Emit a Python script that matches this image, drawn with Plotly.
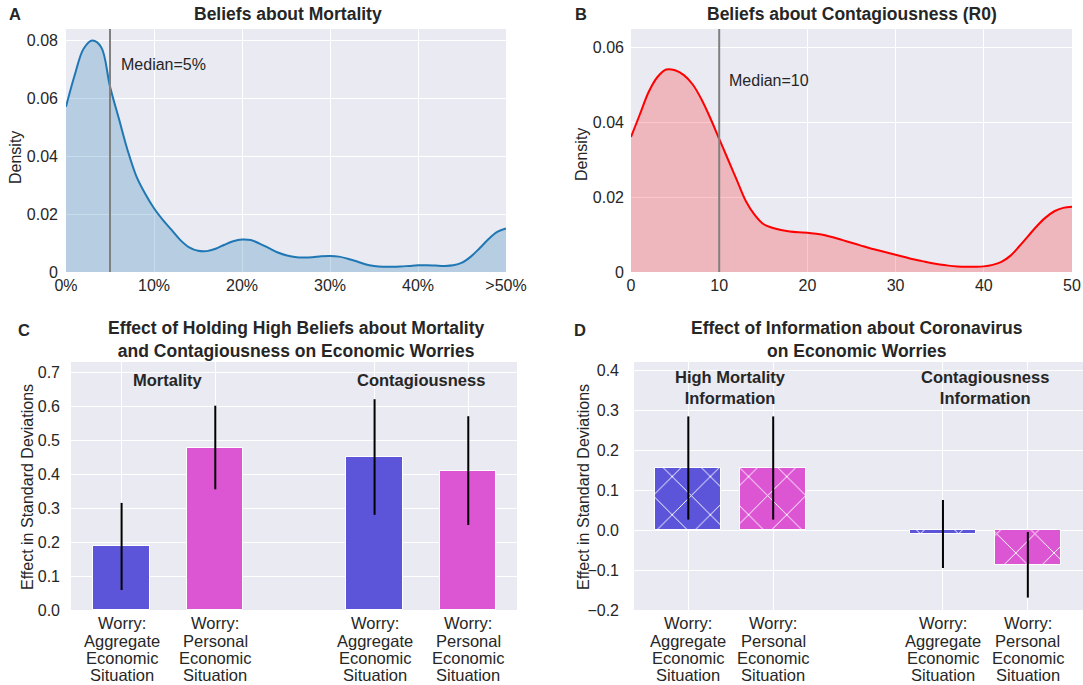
import plotly.graph_objects as go

# ---- Panel A: density of beliefs about mortality (%)
mort_x = list(range(0, 51))
mort_y = [0.057, 0.068, 0.077, 0.0798, 0.0775, 0.064, 0.053, 0.042, 0.033, 0.027,
          0.022, 0.018, 0.0145, 0.011, 0.0085, 0.0073, 0.0072, 0.0080, 0.0094, 0.0106,
          0.0112, 0.0110, 0.0098, 0.0083, 0.0068, 0.0058, 0.0052, 0.0050, 0.0051, 0.0054,
          0.0055, 0.0053, 0.0046, 0.0037, 0.0027, 0.0021, 0.0018, 0.0018, 0.0019, 0.0021,
          0.0023, 0.0023, 0.0022, 0.0021, 0.0023, 0.0032, 0.0053, 0.0082, 0.0113, 0.0138,
          0.0150]
mort_median = 5
mort_ticks = [0, 10, 20, 30, 40, 50]
mort_ticktext = ["0%", "10%", "20%", "30%", "40%", ">50%"]

# ---- Panel B: density of beliefs about R0
r0_x = list(range(0, 51))
r0_y = [0.036, 0.042, 0.048, 0.052, 0.054, 0.0538, 0.0525, 0.050, 0.046, 0.041,
        0.0355, 0.030, 0.0245, 0.019, 0.0153, 0.0128, 0.0118, 0.0112, 0.0108, 0.0106,
        0.0105, 0.0102, 0.0098, 0.0092, 0.0085, 0.0078, 0.0071, 0.0064, 0.0058, 0.0052,
        0.0046, 0.0040, 0.0034, 0.0029, 0.0024, 0.0020, 0.0017, 0.0015, 0.0014, 0.0014,
        0.0015, 0.0019, 0.0027, 0.0043, 0.0068, 0.0095, 0.0122, 0.0145, 0.0162, 0.0171,
        0.0174]
r0_median = 10

# ---- Panel C: effect of high beliefs
worry_labels = [["Worry:", "Aggregate", "Economic", "Situation"],
                ["Worry:", "Personal", "Economic", "Situation"]]
c_pos = [0, 1, 2.7, 3.7]
c_vals = [0.187, 0.478, 0.450, 0.410]
c_err = [0.128, 0.123, 0.170, 0.160]
c_groups = ["Mortality", "Contagiousness"]

# ---- Panel D: effect of information treatments
d_pos = [0, 1, 3, 4]
d_vals = [0.155, 0.155, -0.010, -0.087]
d_err = [0.129, 0.129, 0.085, 0.082]
d_groups = ["High Mortality<br>Information", "Contagiousness<br>Information"]

BLUE = "#5c55da"
PINK = "#dc56d4"
bar_colors = [BLUE, PINK, BLUE, PINK]

W, H = 1083, 685
FONT = "Liberation Sans, Arial, sans-serif"
TXT = "#262626"
BG = "#EAEAF2"
TICK = 16
TITLE = 17.5
LABEL_LINES_Y = [623, 641, 658, 675]


def xdom(l, r):
    return [l / W, r / W]


def ydom(top, bottom):
    return [(H - bottom) / H, (H - top) / H]


def px(x):
    return x / W


def py(y):
    return (H - y) / H


fig = go.Figure()

# density A
fig.add_trace(go.Scatter(x=mort_x, y=mort_y, mode="lines", line=dict(color="#1f77b4", width=2, shape="spline"),
                         fill="tozeroy", fillcolor="rgba(31,119,180,0.25)", xaxis="x", yaxis="y",
                         showlegend=False, hoverinfo="skip"))
# density B
fig.add_trace(go.Scatter(x=r0_x, y=r0_y, mode="lines", line=dict(color="#ff0000", width=2, shape="spline"),
                         fill="tozeroy", fillcolor="rgba(255,0,0,0.22)", xaxis="x2", yaxis="y2",
                         showlegend=False, hoverinfo="skip"))

# bars C
fig.add_trace(go.Bar(x=c_pos, y=c_vals, width=0.6, marker=dict(color=bar_colors, line=dict(color="white", width=1)),
                     error_y=dict(type="data", array=c_err, color="black", thickness=2, width=0),
                     xaxis="x3", yaxis="y3", showlegend=False))

# bars D (cross-hatched), one trace per colour
for idx, col in ((0, BLUE), (1, PINK)):
    sel = [i for i in range(len(d_pos)) if i % 2 == idx]
    fig.add_trace(go.Bar(x=[d_pos[i] for i in sel], y=[d_vals[i] for i in sel], width=0.78,
                         marker=dict(color=col, line=dict(color="white", width=1),
                                     pattern=dict(shape="x", fgcolor="white", bgcolor=col, fgopacity=1,
                                                  size=27, solidity=0.07, fillmode="replace")),
                         error_y=dict(type="data", array=[d_err[i] for i in sel], color="black",
                                      thickness=2, width=0),
                         xaxis="x4", yaxis="y4", showlegend=False))

axis_common = dict(showgrid=True, gridcolor="white", gridwidth=1, zeroline=False, showline=False,
                   ticks="", automargin=False, tickfont=dict(size=TICK, color=TXT, family=FONT))

fig.update_layout(
    template="none",
    width=W, height=H,
    margin=dict(l=0, r=0, t=0, b=0),
    paper_bgcolor="white", plot_bgcolor=BG,
    font=dict(family=FONT, color=TXT, size=TICK),
    bargap=0, barmode="overlay",
    xaxis=dict(axis_common, domain=xdom(66, 506), range=[0, 50], tickvals=mort_ticks, ticktext=mort_ticktext,
               anchor="y", ticklabelstandoff=2),
    yaxis=dict(axis_common, domain=ydom(29, 272), range=[0, 0.0838], tickvals=[0, 0.02, 0.04, 0.06, 0.08],
               ticktext=["0", "0.02", "0.04", "0.06", "0.08"], anchor="x", ticklabelstandoff=7),
    xaxis2=dict(axis_common, domain=xdom(631, 1072), range=[0, 50], tickvals=[0, 10, 20, 30, 40, 50],
                anchor="y2", ticklabelstandoff=2),
    yaxis2=dict(axis_common, domain=ydom(29, 272), range=[0, 0.0648], tickvals=[0, 0.02, 0.04, 0.06],
                ticktext=["0", "0.02", "0.04", "0.06"], anchor="x2", ticklabelstandoff=6),
    xaxis3=dict(axis_common, domain=xdom(71, 517), range=[-0.54, 4.22], tickvals=c_pos,
                showticklabels=False, anchor="y3"),
    yaxis3=dict(axis_common, domain=ydom(362, 610), range=[0, 0.7295],
                tickvals=[0, 0.1, 0.2, 0.3, 0.4, 0.5, 0.6, 0.7], tickformat=".1f", anchor="x3",
                ticklabelstandoff=10),
    xaxis4=dict(axis_common, domain=xdom(634, 1083), range=[-0.64, 4.65], tickvals=d_pos,
                showticklabels=False, anchor="y4"),
    yaxis4=dict(axis_common, domain=ydom(362, 610), range=[-0.2, 0.42],
                tickvals=[-0.2, -0.1, 0, 0.1, 0.2, 0.3, 0.4],
                ticktext=["\u22120.2", "\u22120.1", "0.0", "0.1", "0.2", "0.3", "0.4"], anchor="x4",
                ticklabelstandoff=14),
)

# median lines
fig.add_shape(type="line", xref="x", yref="y domain", x0=mort_median, x1=mort_median, y0=0, y1=1,
              line=dict(color="#808080", width=2))
fig.add_shape(type="line", xref="x2", yref="y2 domain", x0=r0_median, x1=r0_median, y0=0, y1=1,
              line=dict(color="#808080", width=2))


def paper_text(text, x, y, size, angle=0):
    return dict(text=text, xref="paper", yref="paper", x=px(x), y=py(y), xanchor="center", yanchor="middle",
                showarrow=False, textangle=angle, font=dict(size=size, color=TXT, family=FONT))


annotations = [
    dict(text=f"Median={mort_median}%", xref="x", yref="y", x=mort_median + 1, y=0.0715, xanchor="left",
         yanchor="middle", showarrow=False, font=dict(size=TICK, color=TXT)),
    dict(text=f"Median={r0_median}", xref="x2", yref="y2", x=r0_median + 0.9, y=0.0512, xanchor="left",
         yanchor="middle", showarrow=False, font=dict(size=TICK, color=TXT)),
    # titles
    paper_text("<b>Beliefs about Mortality</b>", 288, 14, TITLE),
    paper_text("<b>Beliefs about Contagiousness (R0)</b>", 852, 14, TITLE),
    paper_text("<b>Effect of Holding High Beliefs about Mortality<br>and Contagiousness on Economic Worries</b>",
               296, 339, TITLE),
    paper_text("<b>Effect of Information about Coronavirus<br>on Economic Worries</b>", 857, 339, TITLE),
    # panel letters
    paper_text("<b>A</b>", 15, 14, 16.5),
    paper_text("<b>B</b>", 581, 14, 16.5),
    paper_text("<b>C</b>", 24, 330, 16.5),
    paper_text("<b>D</b>", 580, 330, 16.5),
    # y-axis titles
    paper_text("Density", 16, 158, TICK, -90),
    paper_text("Density", 582, 155, TICK, -90),
    paper_text("Effect in Standard Deviations", 27, 487, TICK, -90),
    paper_text("Effect in Standard Deviations", 583, 487, TICK, -90),
    # group labels
    dict(text=f"<b>{c_groups[0]}</b>", xref="x3", yref="y3", x=(c_pos[0] + c_pos[1]) / 2, y=0.676,
         showarrow=False, font=dict(size=16.5, color=TXT)),
    dict(text=f"<b>{c_groups[1]}</b>", xref="x3", yref="y3", x=(c_pos[2] + c_pos[3]) / 2, y=0.676,
         showarrow=False, font=dict(size=16.5, color=TXT)),
    dict(text=f"<b>{d_groups[0]}</b>", xref="x4", yref="y4", x=(d_pos[0] + d_pos[1]) / 2, y=0.357,
         showarrow=False, font=dict(size=16.5, color=TXT)),
    dict(text=f"<b>{d_groups[1]}</b>", xref="x4", yref="y4", x=(d_pos[2] + d_pos[3]) / 2, y=0.357,
         showarrow=False, font=dict(size=16.5, color=TXT)),
]

# multi-line category labels under the bar panels
for xref, positions in (("x3", c_pos), ("x4", d_pos)):
    for i, xv in enumerate(positions):
        for line, yline in zip(worry_labels[i % 2], LABEL_LINES_Y):
            annotations.append(dict(text=line, xref=xref, yref="paper", x=xv, y=py(yline), xanchor="center",
                                    yanchor="middle", showarrow=False,
                                    font=dict(size=16.5, color=TXT, family=FONT)))

fig.update_layout(annotations=annotations)

fig.write_html("out.html")
